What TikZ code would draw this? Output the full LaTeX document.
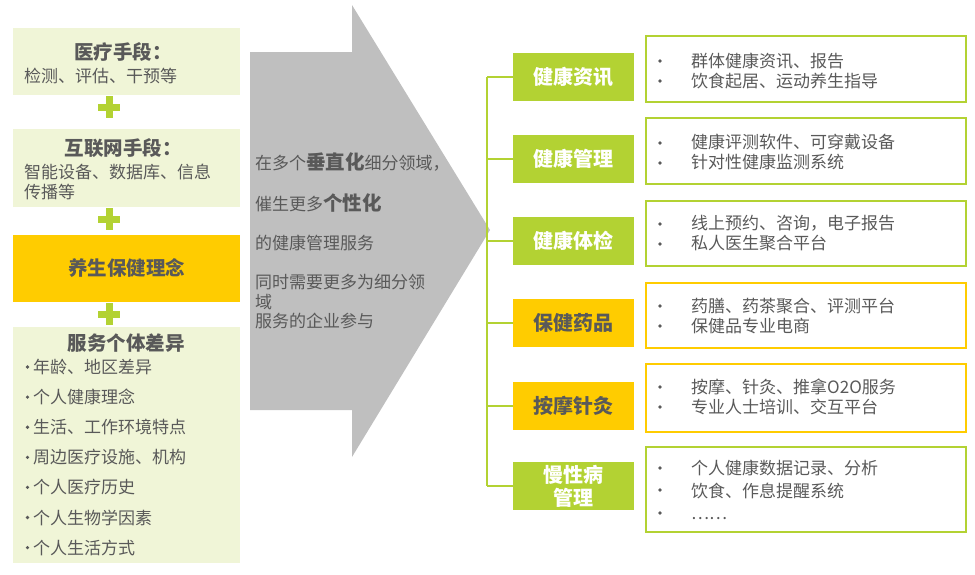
\documentclass[tikz,border=0pt]{standalone}
\usepackage{fontspec}
\setmainfont{Noto Sans CJK SC}
\definecolor{lg}{HTML}{B3D233}
\definecolor{yel}{HTML}{FFCC00}
\definecolor{pale}{HTML}{F0F5D7}
\definecolor{txt}{HTML}{595959}
\definecolor{arr}{HTML}{BFBFBF}
\begin{document}
\begin{tikzpicture}[x=1pt,y=-1pt,
  leftbox/.style={fill=pale,draw=none,minimum width=227pt,inner sep=0pt},
  yelbox/.style={fill=yel,draw=none,minimum width=227pt,inner sep=0pt},
  plussign/.style={fill=lg,draw=none},
  dotmark/.style={fill=txt,draw=none},
  lbl/.style={fill=lg,draw=none,minimum width=121pt,minimum height=48pt,inner sep=0pt,text=white,font=\fontsize{20}{23}\selectfont\bfseries,align=center},
  lbly/.style={lbl,fill=yel,text=txt},
  descg/.style={draw=lg,line width=1.2pt,minimum width=320pt,inner sep=0pt},
  descy/.style={descg,draw=yel},
  desctxt/.style={anchor=west,inner sep=0pt,text=txt,align=left,font=\fontsize{17}{20.5}\selectfont},
  ttl/.style={inner sep=0pt,text=txt,font=\fontsize{19.5}{22}\selectfont\bfseries},
  body/.style={inner sep=0pt,text=txt,anchor=west,align=left,font=\fontsize{17}{20}\selectfont},
  arrtxt/.style={inner sep=0pt,text=txt,anchor=west,align=left,font=\fontsize{17}{19.5}\selectfont},
  conn/.style={draw=lg,line width=1.5pt}
]
\useasboundingbox (0,0) rectangle (975,574);

% ---------- left column ----------
\node[leftbox,minimum height=67pt] (b1) at (126.5,61.5) {};
\node[ttl] (b1t) at (123,52) {医疗手段：};
\node[body] (b1b) at (24,76) {检测、评估、干预等};

\node[leftbox,minimum height=78pt] (b2) at (126.5,168) {};
\node[ttl] (b2t) at (123,148) {互联网手段：};
\node[body] (b2b) at (24,182) {智能设备、数据库、信息\\传播等};

\node[yelbox,minimum height=67pt] (b3) at (126.5,268.5) {};
\node[ttl] (b3t) at (126.5,268) {养生保健理念};

\node[leftbox,minimum height=236pt] (b4) at (126.5,445) {};
\node[ttl] (b4t) at (126,343) {服务个体差异};
\foreach \t [count=\i] in {年龄、地区差异,个人健康理念,生活、工作环境特点,周边医疗设施、机构,个人医疗历史,个人生物学因素,个人生活方式}{
  \node[body] (it\i) at (33,{367+30.1*(\i-1)}) {\t};
  \fill[dotmark] (27.5,{367+30.1*(\i-1)}) circle (1.8);
}

% plus signs
\foreach \y [count=\i] in {107,219,314}{
  \path[plussign] (105.5,\y-11) rectangle (112.5,\y+11);
  \path[plussign] (98,\y-3.5) rectangle (120,\y+3.5);
}

% ---------- big arrow ----------
\path[fill=arr] (250,52) -- (352,52) -- (352,5) -- (490,230) -- (352,457) -- (352,410) -- (250,410) -- cycle;
\node[arrtxt] (a1) at (255,162) {在多个{\fontsize{19.5}{20}\selectfont\bfseries 垂直化}细分领域，};
\node[arrtxt] (a2) at (255,203) {催生更多{\fontsize{19.5}{20}\selectfont\bfseries 个性化}};
\node[arrtxt] (a3) at (255,243) {的健康管理服务};
\node[arrtxt] (a4) at (255,302) {同时需要更多为细分领\\域\\服务的企业参与};

% ---------- right side ----------
\node[lbl]  (l1) at (573.5,77) {健康资讯};
\node[lbl]  (l2) at (573.5,159) {健康管理};
\node[lbl]  (l3) at (573.5,241) {健康体检};
\node[lbly] (l4) at (573.5,323) {保健药品};
\node[lbly] (l5) at (573.5,406) {按摩针灸};
\node[lbl]  (l6) at (573.5,486) {慢性病\\管理};

\coordinate (j1) at (487,77);
\coordinate (j2) at (487,159);
\coordinate (j3) at (487,241);
\coordinate (j4) at (487,323);
\coordinate (j5) at (487,406);
\coordinate (j6) at (487,486);
\draw[conn] (j1) -- (j6);
\foreach \i in {1,...,6}{ \draw[conn] (j\i) -- (l\i.west); }

\node[descg,minimum height=66pt] (d1) at (806,69) {};
\node[descg,minimum height=66pt] (d2) at (806,151) {};
\node[descg,minimum height=65pt] (d3) at (806,233.5) {};
\node[descy,minimum height=65pt] (d4) at (806,315.5) {};
\node[descy,minimum height=68pt] (d5) at (806,398) {};
\node[descg,minimum height=85pt] (d6) at (806,489.5) {};

\node[desctxt] (t1) at (691,71) {群体健康资讯、报告\\饮食起居、运动养生指导};
\node[desctxt] (t2) at (691,152) {健康评测软件、可穿戴设备\\针对性健康监测系统};
\node[desctxt] (t3) at (691,233) {线上预约、咨询，电子报告\\私人医生聚合平台};
\node[desctxt] (t4) at (691,316) {药膳、药茶聚合、评测平台\\保健品专业电商};
\node[desctxt] (t5) at (691,397) {按摩、针灸、推拿O2O服务\\专业人士培训、交互平台};
\node[desctxt,font=\fontsize{17}{22.5}\selectfont] (t6) at (691,490) {个人健康数据记录、分析\\饮食、作息提醒系统\\……};
\foreach \y in {61,81,143,163,224,244,306,326,387,407,468,490,513}{
  \fill[dotmark] (660,\y) circle (1.9);
}
\end{tikzpicture}
\end{document}
